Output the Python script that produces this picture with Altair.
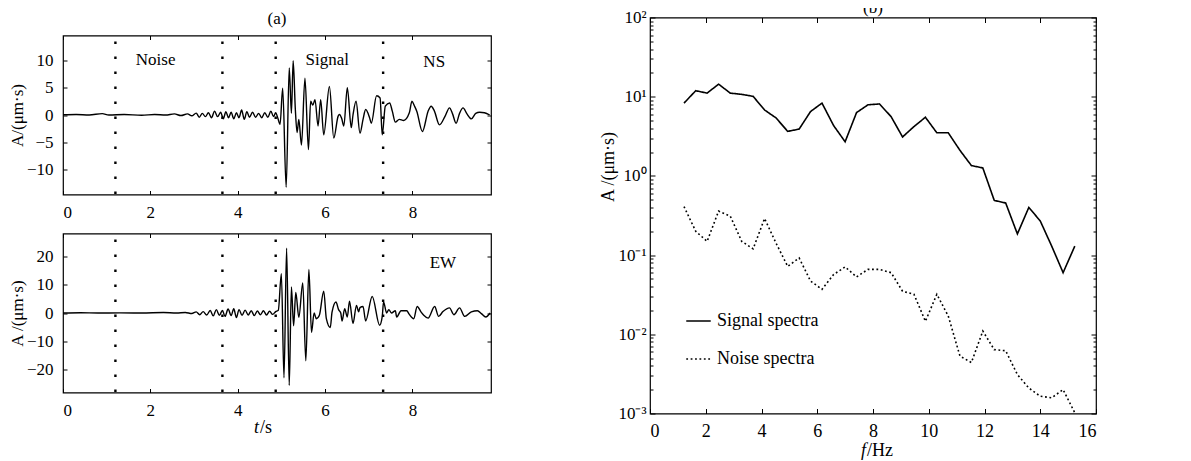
import altair as alt
import pandas as pd

FONT = "Liberation Serif"

# ---------------- data ----------------
ns_t = [0.00, 0.30, 0.60, 0.90, 1.05, 1.40, 1.80, 2.10, 2.35, 2.55,
        2.70, 2.85, 2.95, 3.05, 3.12, 3.19, 3.26, 3.33, 3.40, 3.47,
        3.54, 3.61, 3.67, 3.73, 3.79, 3.85, 3.91, 3.97, 4.03, 4.09,
        4.15, 4.21, 4.27, 4.34, 4.41, 4.48, 4.55, 4.62, 4.69, 4.76,
        4.82, 4.87,
        4.92, 4.97, 5.03, 5.11, 5.18, 5.23, 5.27, 5.32, 5.36, 5.40,
        5.46, 5.54, 5.62, 5.67, 5.72, 5.77, 5.84, 5.90, 5.97, 6.10,
        6.20, 6.30, 6.33, 6.38, 6.43, 6.51, 6.60, 6.64, 6.71, 6.80,
        6.87, 6.93, 7.02, 7.06, 7.18, 7.26, 7.31, 7.38, 7.48, 7.54,
        7.61, 7.70, 7.80, 7.93, 7.99, 8.05, 8.10, 8.23, 8.36, 8.43,
        8.50, 8.62, 8.75, 8.85, 8.92, 9.00, 9.08, 9.16, 9.25, 9.35,
        9.45, 9.54, 9.65, 9.77]
ns_a = [0.05, 0.10, 0.00, 0.25, 0.00, 0.10, -0.05, 0.10, 0.00, 0.20,
        -0.10, 0.20, -0.15, 0.35, -0.40, 0.30, -0.30, 0.40, -0.50, 0.70,
        -0.30, 0.50, -0.70, 0.60, -0.50, 0.50, -0.70, 0.40, -0.50, 0.90,
        -0.80, 0.60, -0.40, 0.50, -0.40, 0.30, -0.50, 0.40, -0.40, 0.70,
        -0.30, 0.40,
        -0.6, -1.7, 4.9, -13.2, 8.6, 0.3, 9.9, 1.0, -3.2, -0.8,
        -5.5, 6.7, -6.3, 2.5, 1.8, 2.8, -2.0, 2.8, -3.6, 5.2,
        -4.2, -0.2, 0.1, -0.6, -2.0, 5.0, -2.3, 0.0, 2.5, -3.3,
        -0.8, 1.0, -0.5, -1.5, 3.5, 3.1, -3.6, 1.6, 2.2, 0.7,
        -1.3, -0.8, -1.0, 0.4, 2.5, 1.6, 0.7, -3.0, 0.7, 1.6,
        0.8, -1.8, -0.2, 1.3, 0.2, -1.5, 0.3, 1.3, 0.2, -0.7,
        0.3, 0.5, 0.4, 0.0]

ew_t = [0.00, 0.40, 0.80, 1.30, 1.80, 2.30, 2.60, 2.80, 2.95, 3.05,
        3.13, 3.21, 3.29, 3.37, 3.44, 3.51, 3.58, 3.65, 3.71, 3.78,
        3.85, 3.91, 3.97, 4.03, 4.10, 4.17, 4.24, 4.31, 4.38, 4.45,
        4.52, 4.59, 4.66, 4.73, 4.80, 4.87,
        4.93, 5.00, 5.06, 5.12, 5.18, 5.23, 5.28, 5.33, 5.40, 5.49,
        5.56, 5.63, 5.69, 5.75, 5.80, 5.87, 5.97, 6.03, 6.12, 6.16,
        6.25, 6.31, 6.36, 6.39, 6.45, 6.51, 6.56, 6.64, 6.72, 6.77,
        6.80, 6.87, 6.93, 7.08, 7.25, 7.31, 7.34, 7.41, 7.46, 7.52,
        7.61, 7.64, 7.74, 7.87, 7.93, 8.03, 8.11, 8.20, 8.26, 8.36,
        8.51, 8.60, 8.70, 8.85, 8.95, 9.08, 9.20, 9.35, 9.49, 9.58,
        9.68, 9.78]
ew_a = [0.00, 0.10, 0.00, 0.05, 0.00, 0.15, 0.00, 0.20, -0.20, 0.40,
        -0.60, 0.50, -0.70, 0.90, -1.00, 1.20, -0.80, 0.90, -1.20, 1.40,
        -0.90, 1.50, -1.60, 1.20, -0.80, 1.00, -0.70, 0.80, -0.90, 0.70,
        -0.60, 0.80, -0.70, 0.60, -0.50, 0.50,
        1.0, 13.8, -22.8, 22.8, -25.5, 9.2, -4.5, 7.2, -1.5, 10.6,
        -16.8, 15.3, -6.8, 0.0, -2.0, -0.8, 7.7, -2.0, -5.1, 0.3,
        3.9, 1.2, 0.0, -2.8, 1.5, -1.4, 4.2, -3.7, 2.7, 0.4,
        1.9, 2.3, -2.8, 5.8, -4.3, -1.2, 3.9, 0.0, 1.2, 0.0,
        0.8, -1.4, 0.8, 0.8, -0.5, -2.0, 2.3, 0.3, -0.8, -1.8,
        2.3, -1.2, 0.5, 1.8, -0.6, 1.8, -1.2, 0.4, 0.8, -0.2,
        -1.4, 0.0]

window_edges = [1.2, 3.65, 4.87, 7.33]

ns_labels = ["Noise", "Signal", "NS"]
ns_label_t = [2.12, 6.05, 8.5]
ns_label_a = [10.0, 10.0, 9.6]
ew_labels = ["EW"]
ew_label_t = [8.7]
ew_label_a = [17.5]

freq = [1.22, 1.64, 2.05, 2.46, 2.88, 3.29, 3.70, 4.11, 4.52, 4.94,
        5.35, 5.76, 6.17, 6.59, 7.00, 7.41, 7.82, 8.23, 8.65, 9.06,
        9.47, 9.88, 10.29, 10.70, 11.12, 11.53, 11.94, 12.35, 12.76, 13.18,
        13.59, 14.00, 14.41, 14.82, 15.24]
signal_spec = [8.3, 11.9, 11.1, 14.4, 11.1, 10.7, 10.1, 6.8, 5.4, 3.65,
               3.9, 6.5, 8.3, 4.3, 2.7, 6.3, 7.9, 8.1, 5.6, 3.1,
               4.2, 5.5, 3.5, 3.5, 2.1, 1.35, 1.26, 0.49, 0.455, 0.185,
               0.40, 0.27, 0.13, 0.06, 0.13]
noise_spec = [0.41, 0.20, 0.149, 0.36, 0.31, 0.149, 0.12, 0.29, 0.142, 0.072,
              0.092, 0.047, 0.037, 0.057, 0.071, 0.053, 0.066, 0.066, 0.06, 0.035,
              0.032, 0.0146, 0.032, 0.017, 0.0053, 0.0044, 0.011, 0.0064, 0.0062, 0.0031,
              0.0021, 0.00165, 0.00158, 0.002, 0.00102]
series_names = ["Signal spectra", "Noise spectra"]

t_ticks = [0, 2, 4, 6, 8]
ns_ticks = [-10, -5, 0, 5, 10]
ew_ticks = [-20, -10, 0, 10, 20]
f_ticks = [0, 2, 4, 6, 8, 10, 12, 14, 16]
amp_ticks = [0.001, 0.01, 0.1, 1, 10, 100]
amp_tick_labels = ["10\u207b\u00b3", "10\u207b\u00b2", "10\u207b\u00b9", "10\u2070", "10\u00b9", "10\u00b2"]
amp_minor = [m * 10.0 ** k for k in range(-3, 2) for m in range(2, 10)]

# ---------------- layout sizes ----------------
LW, LH = 428, 159
RW, RH = 446, 396
TICK = 4


def inward(orient, values, size=TICK, **kw):
    return alt.Axis(orient=orient, values=values, offset=-size, tickSize=size,
                    domain=False, grid=False, **kw)


def text_at(label, x, y, size=17, **kw):
    return alt.Chart(pd.DataFrame({"s": [label]})).mark_text(
        font=FONT, fontSize=size, color="black", baseline="middle", **kw).encode(
        x=alt.value(x), y=alt.value(y), text="s:N")


def trace_panel(t, a, ydom, yticks, ytitle, labels, lt, la, extra):
    df = pd.DataFrame({"t": t, "a": a})
    xs = alt.Scale(domain=[0, 9.8], nice=False, zero=False)
    ys = alt.Scale(domain=ydom, nice=False, zero=False)
    line = alt.Chart(df).mark_line(color="black", strokeWidth=1.4,
                                   interpolate="monotone", clip=True).encode(
        x=alt.X("t:Q", scale=xs, axis=inward("bottom", t_ticks, title=None, labelPadding=10, format="d")),
        y=alt.Y("a:Q", scale=ys, axis=inward("left", yticks, title=ytitle, labelPadding=10,
                                             titlePadding=0, format="d")),
    )
    mirror = alt.Chart(df).mark_line(strokeOpacity=0).encode(
        x=alt.X("t:Q", scale=xs, axis=inward("top", t_ticks, title=None, labels=False)),
        y=alt.Y("a:Q", scale=ys, axis=inward("right", yticks, title=None, labels=False)),
    )
    edges = alt.Chart(pd.DataFrame({"t": window_edges})).mark_rule(
        color="black", strokeWidth=2.4, strokeDash=[2.4, 12.6], strokeDashOffset=-6).encode(
        x=alt.X("t:Q", scale=xs, axis=None))
    text = alt.Chart(pd.DataFrame({"t": lt, "a": la, "label": labels})).mark_text(
        font=FONT, fontSize=17, color="black").encode(
        x=alt.X("t:Q", scale=xs, axis=None),
        y=alt.Y("a:Q", scale=ys, axis=None),
        text="label:N")
    layers = [line, mirror, edges, text] + extra
    return alt.layer(*layers).resolve_axis(x="independent", y="independent").properties(
        width=LW, height=LH)


# strip above the traces that carries the panel title "(a)"
head_a = text_at("(a)", LW / 2, 1, align="center").properties(
    width=LW, height=10, view=alt.ViewBackground(stroke="transparent"))

top = trace_panel(ns_t, ns_a, [-14.5, 14.5], ns_ticks, "A/(\u03bcm\u00b7s)",
                  ns_labels, ns_label_t, ns_label_a, extra=[])
# bottom trace with x-axis title: italic "t" + "/s"
bottom = trace_panel(ew_t, ew_a, [-28, 28], ew_ticks, "A /(\u03bcm\u00b7s)",
                     ew_labels, ew_label_t, ew_label_a,
                     extra=[text_at("t", 196, 194, size=18, align="right", fontStyle="italic"),
                            text_at("/s", 197, 194, size=18, align="left")])

left = alt.vconcat(head_a, alt.vconcat(top, bottom, spacing=10), spacing=5)

# ---------------- spectra ----------------
n = len(freq)
spec_df = pd.DataFrame({
    "f": freq + freq,
    "amp": signal_spec + noise_spec,
    "series": [series_names[0]] * n + [series_names[1]] * n,
})
fs = alt.Scale(domain=[0, 16], nice=False, zero=False)
ls = alt.Scale(type="log", domain=[0.001, 100], nice=False)
label_expr = "[" + ",".join("'%s'" % s for s in amp_tick_labels) + "][round(log(datum.value)/LN10)+3]"

spec_lines = alt.Chart(spec_df).mark_line(color="black", strokeWidth=1.6, clip=True).encode(
    x=alt.X("f:Q", scale=fs, axis=inward("bottom", f_ticks, size=5, title=None, labelPadding=9,
                                         labelFontSize=18)),
    y=alt.Y("amp:Q", scale=ls, axis=inward("left", amp_ticks, size=5, labelExpr=label_expr,
                                           title="A /(\u03bcm\u00b7s)", labelPadding=4,
                                           titlePadding=0, titleY=149, labelFontSize=17,
                                           titleFontSize=18)),
    strokeDash=alt.StrokeDash(
        "series:N",
        scale=alt.Scale(domain=series_names, range=[[1, 0], [1.8, 2.6]]),
        legend=alt.Legend(title=None, orient="none", legendX=35, legendY=290,
                          symbolType="stroke", symbolSize=600, symbolStrokeWidth=1.6,
                          symbolStrokeColor="black", labelFont=FONT, labelFontSize=18,
                          labelColor="black", rowPadding=15, labelOffset=5)),
    detail="series:N",
)
spec_mirror = alt.Chart(spec_df).mark_line(strokeOpacity=0).encode(
    x=alt.X("f:Q", scale=fs, axis=inward("top", f_ticks, size=5, title=None, labels=False)),
    y=alt.Y("amp:Q", scale=ls, axis=inward("right", amp_ticks, size=5, title=None, labels=False)),
)
minor_left = alt.Chart(spec_df).mark_line(strokeOpacity=0).encode(
    x=alt.X("f:Q", scale=fs, axis=None),
    y=alt.Y("amp:Q", scale=ls, axis=inward("left", amp_minor, size=3, title=None, labels=False)),
)
minor_right = alt.Chart(spec_df).mark_line(strokeOpacity=0).encode(
    x=alt.X("f:Q", scale=fs, axis=None),
    y=alt.Y("amp:Q", scale=ls, axis=inward("right", amp_minor, size=3, title=None, labels=False)),
)

right = alt.layer(
    spec_lines, spec_mirror, minor_left, minor_right,
    text_at("f", 216, 433, size=18, align="right", fontStyle="italic"),
    text_at("/Hz", 217, 433, size=18, align="left"),
    text_at("(b)", RW / 2, -10, align="center"),
    text_at("(b)", RW / 2, -32, align="center", opacity=0),
).resolve_axis(x="independent", y="independent").properties(width=RW, height=RH)

chart = alt.hconcat(left, right, spacing=106).resolve_scale(strokeDash="independent").properties(
    padding={"top": -32.5, "left": -1, "right": 5, "bottom": 0}
).configure_view(stroke="black", strokeWidth=1.2).configure_axis(
    labelFont=FONT, titleFont=FONT, labelFontSize=17, titleFontSize=17,
    labelColor="black", titleColor="black", tickColor="black", tickWidth=1,
    titleFontWeight="normal", grid=False, domain=False
)

chart.save("out.html", embed_options={"renderer": "svg", "actions": False})
